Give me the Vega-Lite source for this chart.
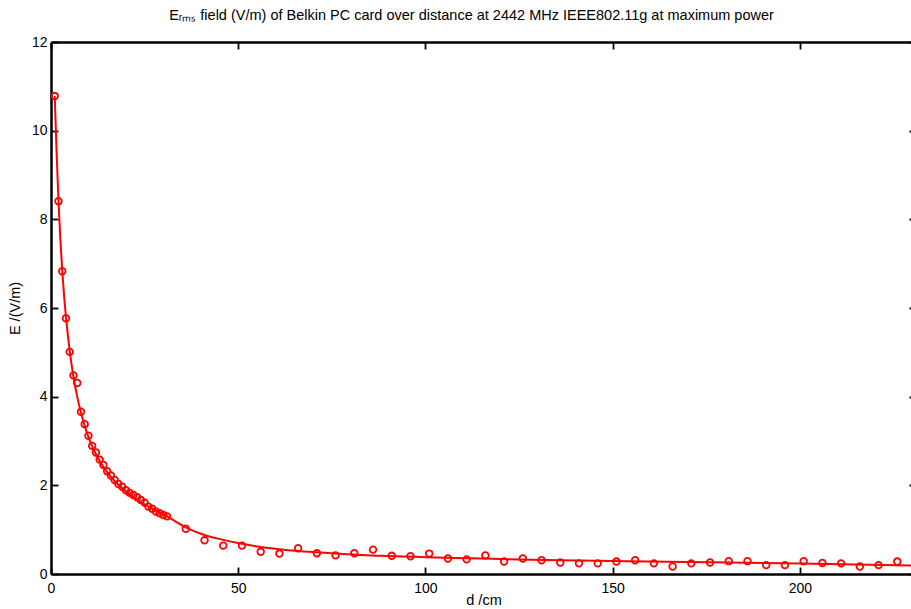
{
 "$schema": "https://vega.github.io/schema/vega-lite/v6.json",
 "autosize": "none",
 "width": 865,
 "height": 532,
 "padding": {"left": 51, "top": 42, "right": 0, "bottom": 35},
 "title": {"text": "Eᵣₘₛ field (V/m) of Belkin PC card over distance at 2442 MHz IEEE802.11g at maximum power", "fontSize": 14.5, "fontWeight": "normal", "font": "Liberation Sans", "color": "black", "offset": 12, "dx": -12},
 "config": {
  "view": {"stroke": null},
  "axis": {"grid": false, "domainColor": "black", "domainWidth": 2.5, "tickColor": "black", "tickWidth": 1.8, "tickSize": -7, "labelFont": "Liberation Sans", "labelFontSize": 14, "labelColor": "black", "titleFont": "Liberation Sans", "titleFontSize": 14.5, "titleFontWeight": "normal", "titleColor": "black", "labelFlush": false, "labelOverlap": false}
 },
 "datasets": {
  "pts": [
   {"d":1,"E":10.78},{"d":2,"E":8.41},{"d":3,"E":6.83},{"d":4,"E":5.77},{"d":5,"E":5.01},{"d":6,"E":4.48},{"d":7,"E":4.31},{"d":8,"E":3.66},{"d":9,"E":3.38},{"d":10,"E":3.12},
   {"d":11,"E":2.89},{"d":12,"E":2.74},{"d":13,"E":2.58},{"d":14,"E":2.46},{"d":15,"E":2.32},{"d":16,"E":2.22},{"d":17,"E":2.12},{"d":18,"E":2.03},{"d":19,"E":1.97},{"d":20,"E":1.89},
   {"d":21,"E":1.83},{"d":22,"E":1.78},{"d":23,"E":1.73},{"d":24,"E":1.67},{"d":25,"E":1.61},{"d":26,"E":1.52},{"d":27,"E":1.47},{"d":28,"E":1.41},{"d":29,"E":1.37},{"d":30,"E":1.33},
   {"d":31,"E":1.30},{"d":36,"E":1.02},{"d":41,"E":0.76},{"d":46,"E":0.64},{"d":51,"E":0.64},{"d":56,"E":0.50},{"d":61,"E":0.46},{"d":66,"E":0.58},{"d":71,"E":0.47},{"d":76,"E":0.42},
   {"d":81,"E":0.47},{"d":86,"E":0.55},{"d":91,"E":0.41},{"d":96,"E":0.40},{"d":101,"E":0.46},{"d":106,"E":0.35},{"d":111,"E":0.33},{"d":116,"E":0.42},{"d":121,"E":0.28},{"d":126,"E":0.35},
   {"d":131,"E":0.31},{"d":136,"E":0.26},{"d":141,"E":0.24},{"d":146,"E":0.24},{"d":151,"E":0.28},{"d":156,"E":0.31},{"d":161,"E":0.24},{"d":166,"E":0.17},{"d":171,"E":0.24},{"d":176,"E":0.26},
   {"d":181,"E":0.29},{"d":186,"E":0.29},{"d":191,"E":0.20},{"d":196,"E":0.20},{"d":201,"E":0.29},{"d":206,"E":0.25},{"d":211,"E":0.24},{"d":216,"E":0.17},{"d":221,"E":0.20},{"d":226,"E":0.28}
  ],
  "fit": [
   {"d":1,"E":10.78},{"d":1.5,"E":9.5},{"d":2,"E":8.42},{"d":2.5,"E":7.55},{"d":3,"E":6.85},{"d":3.5,"E":6.27},{"d":4,"E":5.8},{"d":5,"E":5.03},{"d":6,"E":4.45},{"d":7,"E":4.0},
   {"d":8,"E":3.64},{"d":9,"E":3.34},{"d":10,"E":3.09},{"d":11,"E":2.88},{"d":12,"E":2.7},{"d":13,"E":2.55},{"d":14,"E":2.42},{"d":15,"E":2.3},{"d":16,"E":2.19},{"d":18,"E":2.01},
   {"d":20,"E":1.86},{"d":22,"E":1.73},{"d":24,"E":1.62},{"d":26,"E":1.52},{"d":28,"E":1.43},{"d":30,"E":1.35},{"d":33,"E":1.2},{"d":36,"E":1.05},{"d":41,"E":0.88},{"d":46,"E":0.77},
   {"d":51,"E":0.68},{"d":56,"E":0.61},{"d":61,"E":0.56},{"d":66,"E":0.52},{"d":75,"E":0.47},{"d":88,"E":0.41},{"d":100,"E":0.38},{"d":115,"E":0.35},{"d":128,"E":0.32},{"d":141,"E":0.305},
   {"d":170,"E":0.27},{"d":200,"E":0.235},{"d":231,"E":0.19}
  ]
 },
 "layer": [
  {
   "data": {"name": "fit"},
   "mark": {"type": "line", "color": "#ff0000", "strokeWidth": 2, "interpolate": "monotone", "clip": true},
   "encoding": {
    "x": {"field": "d", "type": "quantitative", "scale": {"domain": [0, 231], "nice": false, "zero": false}, "axis": {"orient": "bottom", "values": [0, 50, 100, 150, 200], "title": "d /cm", "labelPadding": 14, "titlePadding": -2}},
    "y": {"field": "E", "type": "quantitative", "scale": {"domain": [0, 12], "nice": false}, "axis": {"orient": "left", "values": [0, 2, 4, 6, 8, 10, 12], "title": "E /(V/m)", "labelPadding": 11, "titlePadding": 9}}
   }
  },
  {
   "data": {"name": "pts"},
   "mark": {"type": "point", "shape": "circle", "color": "#ff0000", "filled": false, "size": 44, "strokeWidth": 1.8, "opacity": 1, "clip": true},
   "encoding": {
    "x": {"field": "d", "type": "quantitative", "scale": {"domain": [0, 231], "nice": false, "zero": false}, "axis": {"orient": "top", "values": [0, 50, 100, 150, 200], "labels": false, "title": null}},
    "y": {"field": "E", "type": "quantitative", "scale": {"domain": [0, 12], "nice": false}, "axis": {"orient": "right", "values": [0, 2, 4, 6, 8, 10, 12], "labels": false, "title": null}}
   }
  }
 ],
 "resolve": {"axis": {"x": "independent", "y": "independent"}}
}
